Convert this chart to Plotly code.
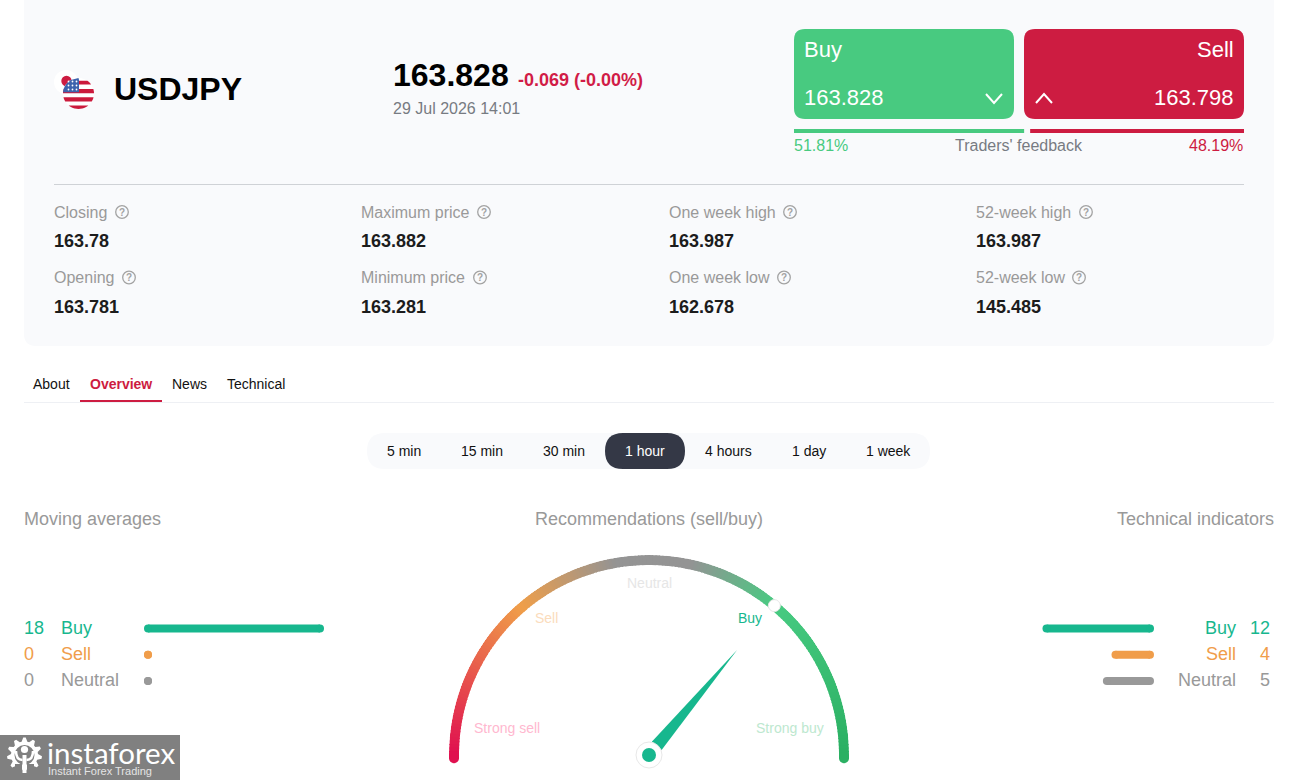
import numpy as np
import plotly.graph_objects as go

W, H = 1294, 780
FONT = "Liberation Sans, Arial, sans-serif"

# quote
symbol = "USDJPY"
price = "163.828"
change = "-0.069 (-0.00%)"
quote_time = "29 Jul 2026 14:01"
buy_price = "163.828"
sell_price = "163.798"
feedback_buy = 51.81
feedback_sell = 48.19

# stats table
stat_names = ["Closing", "Opening", "Maximum price", "Minimum price",
              "One week high", "One week low", "52-week high", "52-week low"]
stat_values = ["163.78", "163.781", "163.882", "163.281",
               "163.987", "162.678", "163.987", "145.485"]

tabs = ["About", "Overview", "News", "Technical"]
timeframes = ["5 min", "15 min", "30 min", "1 hour", "4 hours", "1 day", "1 week"]

# signal counts
signal_names = ["Buy", "Sell", "Neutral"]
moving_averages = [18, 0, 0]
technical_indicators = [12, 4, 5]

# gauge
gauge_labels = ["Strong sell", "Sell", "Neutral", "Buy", "Strong buy"]
needle_angle = 50

GREEN = "#48ca80"
RED = "#cd1c41"
TEAL = "#17b78e"
ORANGE = "#f09d4a"
GREY = "#999999"
PANEL = "#f9fafc"
signal_colors = [TEAL, ORANGE, GREY]


def px_x(a, b):
    return [a / W, b / W]


def px_y(top, bottom):
    return [1 - bottom / H, 1 - top / H]


def rounded_rect(x0, y0, x1, y1, r):
    return (f"M{x0+r},{y0} L{x1-r},{y0} Q{x1},{y0} {x1},{y0+r} L{x1},{y1-r} Q{x1},{y1} {x1-r},{y1} "
            f"L{x0+r},{y1} Q{x0},{y1} {x0},{y1-r} L{x0},{y0+r} Q{x0},{y0} {x0+r},{y0} Z")


def band_path(cx, cy, r, y0, y1, xmax=None):
    # horizontal band of a circle, optionally cut on the right
    ys = np.linspace(max(y0, cy - r), min(y1, cy + r), 8)
    half = np.sqrt(np.clip(r**2 - (ys - cy)**2, 0, None))
    left = cx - half
    right = cx + half if xmax is None else np.minimum(cx + half, xmax)
    pts = list(zip(left, ys)) + list(zip(right[::-1], ys[::-1]))
    return "M" + " L".join(f"{x:.2f},{y:.2f}" for x, y in pts) + " Z"


shapes = []
annotations = []


def rect(x0, y0, x1, y1, color, r=0):
    if r:
        shapes.append(dict(type="path", path=rounded_rect(x0, y0, x1, y1, r), fillcolor=color,
                           line_width=0, xref="x", yref="y", layer="below"))
    else:
        shapes.append(dict(type="rect", x0=x0, y0=y0, x1=x1, y1=y1, fillcolor=color,
                           line_width=0, xref="x", yref="y", layer="below"))


def circle(cx, cy, r, color, line=None, lw=0):
    shapes.append(dict(type="circle", x0=cx - r, y0=cy - r, x1=cx + r, y1=cy + r, fillcolor=color,
                       line=dict(color=line or color, width=lw), xref="x", yref="y", layer="below"))


def path(d, fill=None, line=None, lw=0):
    shapes.append(dict(type="path", path=d, fillcolor=fill or "rgba(0,0,0,0)",
                       line=dict(color=line or "rgba(0,0,0,0)", width=lw), xref="x", yref="y", layer="below"))


def text(x, y, s, size, color, anchor="left", bold=False, family=FONT):
    annotations.append(dict(x=x, y=y, xref="x", yref="y", text=f"<b>{s}</b>" if bold else s,
                            showarrow=False, xanchor=anchor, yanchor="middle", borderpad=0, borderwidth=0,
                            font=dict(family=family, size=size, color=color)))


# top panel
rect(24, -14, 1274, 346, PANEL, 12)

# flag
circle(66, 82, 12, "#ffffff")
circle(66.5, 81, 5.2, RED)
fx, fy, fr = 78.5, 93.5, 15.5
circle(fx, fy, fr, "#ffffff")
for y0, y1 in [(80.8, 84.4), (89, 93.2), (97.3, 101.6), (105.5, 110)]:
    path(band_path(fx, fy, fr, y0, y1), fill="#cb1a3c")
path(band_path(fx, fy, fr, 77, 92.3, xmax=79), fill="#3d63ad")
for sy in [81.5, 85.5, 89.5]:
    for sx in [68.5, 72.5, 76.5]:
        circle(sx, sy, 0.9, "#ffffff")

text(114, 89, symbol, 32, "#000000", bold=True)
text(393, 75, price, 32, "#000000", bold=True)
text(518, 80, change, 18, "#d11c47", bold=True)
text(393, 108, quote_time, 16, "#777b82")

# buy / sell cards
rect(794, 29, 1014, 119, GREEN, 11)
rect(1024, 29, 1244, 119, RED, 11)
text(804, 49.5, "Buy", 22, "#ffffff")
text(1233.5, 49.5, "Sell", 22, "#ffffff", anchor="right")
text(804, 97, buy_price, 22, "#ffffff")
text(1233.5, 97, sell_price, 22, "#ffffff", anchor="right")
path("M986,94 L994,103 L1002,94", line="#ffffff", lw=2)
path("M1036,103 L1044,94 L1052,103", line="#ffffff", lw=2)
text(793.5, 145.5, f"{feedback_buy}%", 16, GREEN)
text(1019, 145.5, "Traders' feedback", 16, "#777b82", anchor="center")
text(1243, 145.5, f"{feedback_sell}%", 16, RED, anchor="right")

# divider + stats
rect(54, 184, 1244, 185, "#cfd2d6")
stat_x = [54, 361, 669, 976]
label_y = [212, 277.5]
value_y = [241, 307]
help_x = [122, 129, 484, 480, 790, 784, 1086, 1079]
for i, (name, value) in enumerate(zip(stat_names, stat_values)):
    x = stat_x[i // 2]
    row = i % 2
    text(x, label_y[row], name, 16, "#999999")
    text(x, value_y[row], value, 18, "#1c1c1c", bold=True)
    circle(help_x[i], label_y[row], 6.3, "rgba(0,0,0,0)", line="#a3a3a3", lw=1.3)
    text(help_x[i], label_y[row], "?", 10, "#a3a3a3", anchor="center", bold=True)

# tabs
rect(24, 402, 1274, 403, "#eef0f4")
rect(80, 400, 162, 402, RED)
tab_x = [33, 90, 172, 227]
for i, t in enumerate(tabs):
    text(tab_x[i], 384, t, 14, RED if t == "Overview" else "#111111", bold=t == "Overview")

# timeframes
rect(367, 433, 930, 469, PANEL, 18)
rect(605, 433, 685, 469, "#343846", 18)
tf_x = [404, 482, 564, 645, 728, 809, 888]
for i, t in enumerate(timeframes):
    text(tf_x[i], 451, t, 14, "#ffffff" if t == "1 hour" else "#111111", anchor="center")

# section titles
text(24, 519, "Moving averages", 18, "#999999")
text(649, 519, "Recommendations (sell/buy)", 18, "#999999", anchor="center")
text(1274, 519, "Technical indicators", 18, "#999999", anchor="right")

# counts next to the bars
row_y = [628, 654, 680]
for i, name in enumerate(signal_names):
    c = signal_colors[i]
    text(24, row_y[i], str(moving_averages[i]), 18, c)
    text(61, row_y[i], name, 18, c)
    text(1270, row_y[i], str(technical_indicators[i]), 18, c, anchor="right")
    text(1236, row_y[i], name, 18, c, anchor="right")

# gauge labels
gauge_pos = [(507, 728), (546, 618), (649, 583), (750, 618), (790, 728)]
gauge_text = ["#ffb8cf", "#fbdcbc", "#e6e6e6", TEAL, "#bde8cf"]
for (x, y), s, c in zip(gauge_pos, gauge_labels, gauge_text):
    text(x, y, s, 14, c, anchor="center")

# logo
rect(0, 735, 180, 780, "#808080")
gear_r = [17.5 if (k % 4) in (0, 1) else 13.5 for k in range(44)]
gear_a = np.deg2rad(np.arange(44) * 360 / 44 + 4)
path("M" + " L".join(f"{24.5 + r*np.cos(a):.2f},{755 + r*np.sin(a):.2f}" for r, a in zip(gear_r, gear_a)) + " Z",
     fill="#ffffff")
circle(24.5, 755, 10, "#808080")
circle(24.5, 749.5, 3.6, "#ffffff")
rect(22.5, 755, 26.5, 773, "#ffffff")
rect(15, 764, 22, 775, "#808080")
rect(27, 764, 34, 775, "#808080")
path("M16,751 Q16,760 22.5,760", line="#ffffff", lw=2.5)
path("M33,751 Q33,760 26.5,760", line="#ffffff", lw=2.5)
text(47, 752.5, "instaforex", 29.5, "#ffffff", family="Lato, sans-serif")
text(48, 771, "Instant Forex Trading", 11, "#e4e4e4")

fig = go.Figure()


def hbar(value, label, color, xa, ya):
    fig.add_trace(go.Scatter(x=[0, value], y=[label, label], mode="lines+markers", xaxis=xa, yaxis=ya,
                             line=dict(color=color, width=8), marker=dict(color=color, size=8),
                             cliponaxis=False, hoverinfo="skip"))


# moving averages / technical indicators bars
for i, name in enumerate(signal_names):
    hbar(moving_averages[i], name, signal_colors[i], "x2", "y2")
    hbar(technical_indicators[i], name, signal_colors[i], "x3", "y3")

# traders' feedback bars (small gap in the middle)
fig.add_trace(go.Scatter(x=[0, feedback_buy - 0.67], y=[0, 0], mode="lines", xaxis="x4", yaxis="y4",
                         line=dict(color=GREEN, width=4), hoverinfo="skip"))
fig.add_trace(go.Scatter(x=[feedback_buy + 0.67, 100], y=[0, 0], mode="lines", xaxis="x4", yaxis="y4",
                         line=dict(color=RED, width=4), hoverinfo="skip"))

# gauge arc
angles = np.arange(0, 180, 1.0)
stop_a = [0, 50, 78, 100, 131, 180]
stop_c = np.array([[43, 176, 99], [72, 203, 130], [148, 148, 148], [148, 148, 148], [240, 159, 74], [224, 16, 80]])
arc_colors = [f"rgb({int(np.interp(a, stop_a, stop_c[:, 0]))},{int(np.interp(a, stop_a, stop_c[:, 1]))},"
              f"{int(np.interp(a, stop_a, stop_c[:, 2]))})" for a in angles + 0.5]
fig.add_trace(go.Barpolar(r=[10] * len(angles), base=190, theta=angles + 0.5, width=1.3,
                          marker=dict(color=arc_colors, line_width=0), hoverinfo="skip"))
# round ends of the arc (polar drops points outside the sector)
for cx, col in [(844, arc_colors[0]), (454, arc_colors[-1])]:
    rect(cx - 5, 754.5, cx + 5, 758.3, col)
    circle(cx, 758.3, 5, col)
# needle, knob and hub
fig.add_trace(go.Scatterpolar(r=[137, 13.6, 13.6, 137], theta=[needle_angle, needle_angle + 28, needle_angle - 28, needle_angle],
                              mode="lines", fill="toself", fillcolor=TEAL, line=dict(color=TEAL, width=0),
                              cliponaxis=False, hoverinfo="skip"))
fig.add_trace(go.Scatterpolar(r=[195], theta=[needle_angle], mode="markers", cliponaxis=False, hoverinfo="skip",
                              marker=dict(color="#ffffff", size=12, line=dict(color="#e8e8e8", width=1))))
fig.add_trace(go.Scatterpolar(r=[0], theta=[needle_angle], mode="markers", cliponaxis=False, hoverinfo="skip",
                              marker=dict(color="#ffffff", size=26, opacity=1, line=dict(color="#e8e8e8", width=1))))
fig.add_trace(go.Scatterpolar(r=[0], theta=[needle_angle], mode="markers", cliponaxis=False, hoverinfo="skip",
                              marker=dict(color=TEAL, size=14, opacity=1)))

hidden = dict(visible=False, fixedrange=True)
fig.update_layout(
    width=W, height=H,
    margin=dict(l=0, r=0, t=0, b=0),
    paper_bgcolor="#ffffff", plot_bgcolor="rgba(0,0,0,0)",
    showlegend=False,
    shapes=shapes, annotations=annotations,
    xaxis=dict(hidden, range=[0, W], domain=[0, 1]),
    yaxis=dict(hidden, range=[H, 0], domain=[0, 1]),
    xaxis2=dict(hidden, range=[0, 18], domain=px_x(148, 320), anchor="y2"),
    yaxis2=dict(hidden, type="category", categoryorder="array", categoryarray=signal_names,
                range=[2.5, -0.5], domain=px_y(615.5, 694), anchor="x2"),
    xaxis3=dict(hidden, range=[12, 0], domain=px_x(1046.5, 1150), anchor="y3"),
    yaxis3=dict(hidden, type="category", categoryorder="array", categoryarray=signal_names,
                range=[2.5, -0.5], domain=px_y(615.5, 694), anchor="x3"),
    xaxis4=dict(hidden, range=[0, 100], domain=px_x(794, 1244), anchor="y4"),
    yaxis4=dict(hidden, range=[-1, 1], domain=px_y(121, 141), anchor="x4"),
    polar=dict(domain=dict(x=px_x(449, 849), y=px_y(555, 755)), sector=[0, 180], bgcolor="rgba(0,0,0,0)",
               radialaxis=dict(visible=False, range=[0, 200]),
               angularaxis=dict(visible=False)),
)

fig.write_html("out.html", config={"displayModeBar": False},
               post_script="document.body.style.margin='0';document.body.style.overflow='hidden';")
